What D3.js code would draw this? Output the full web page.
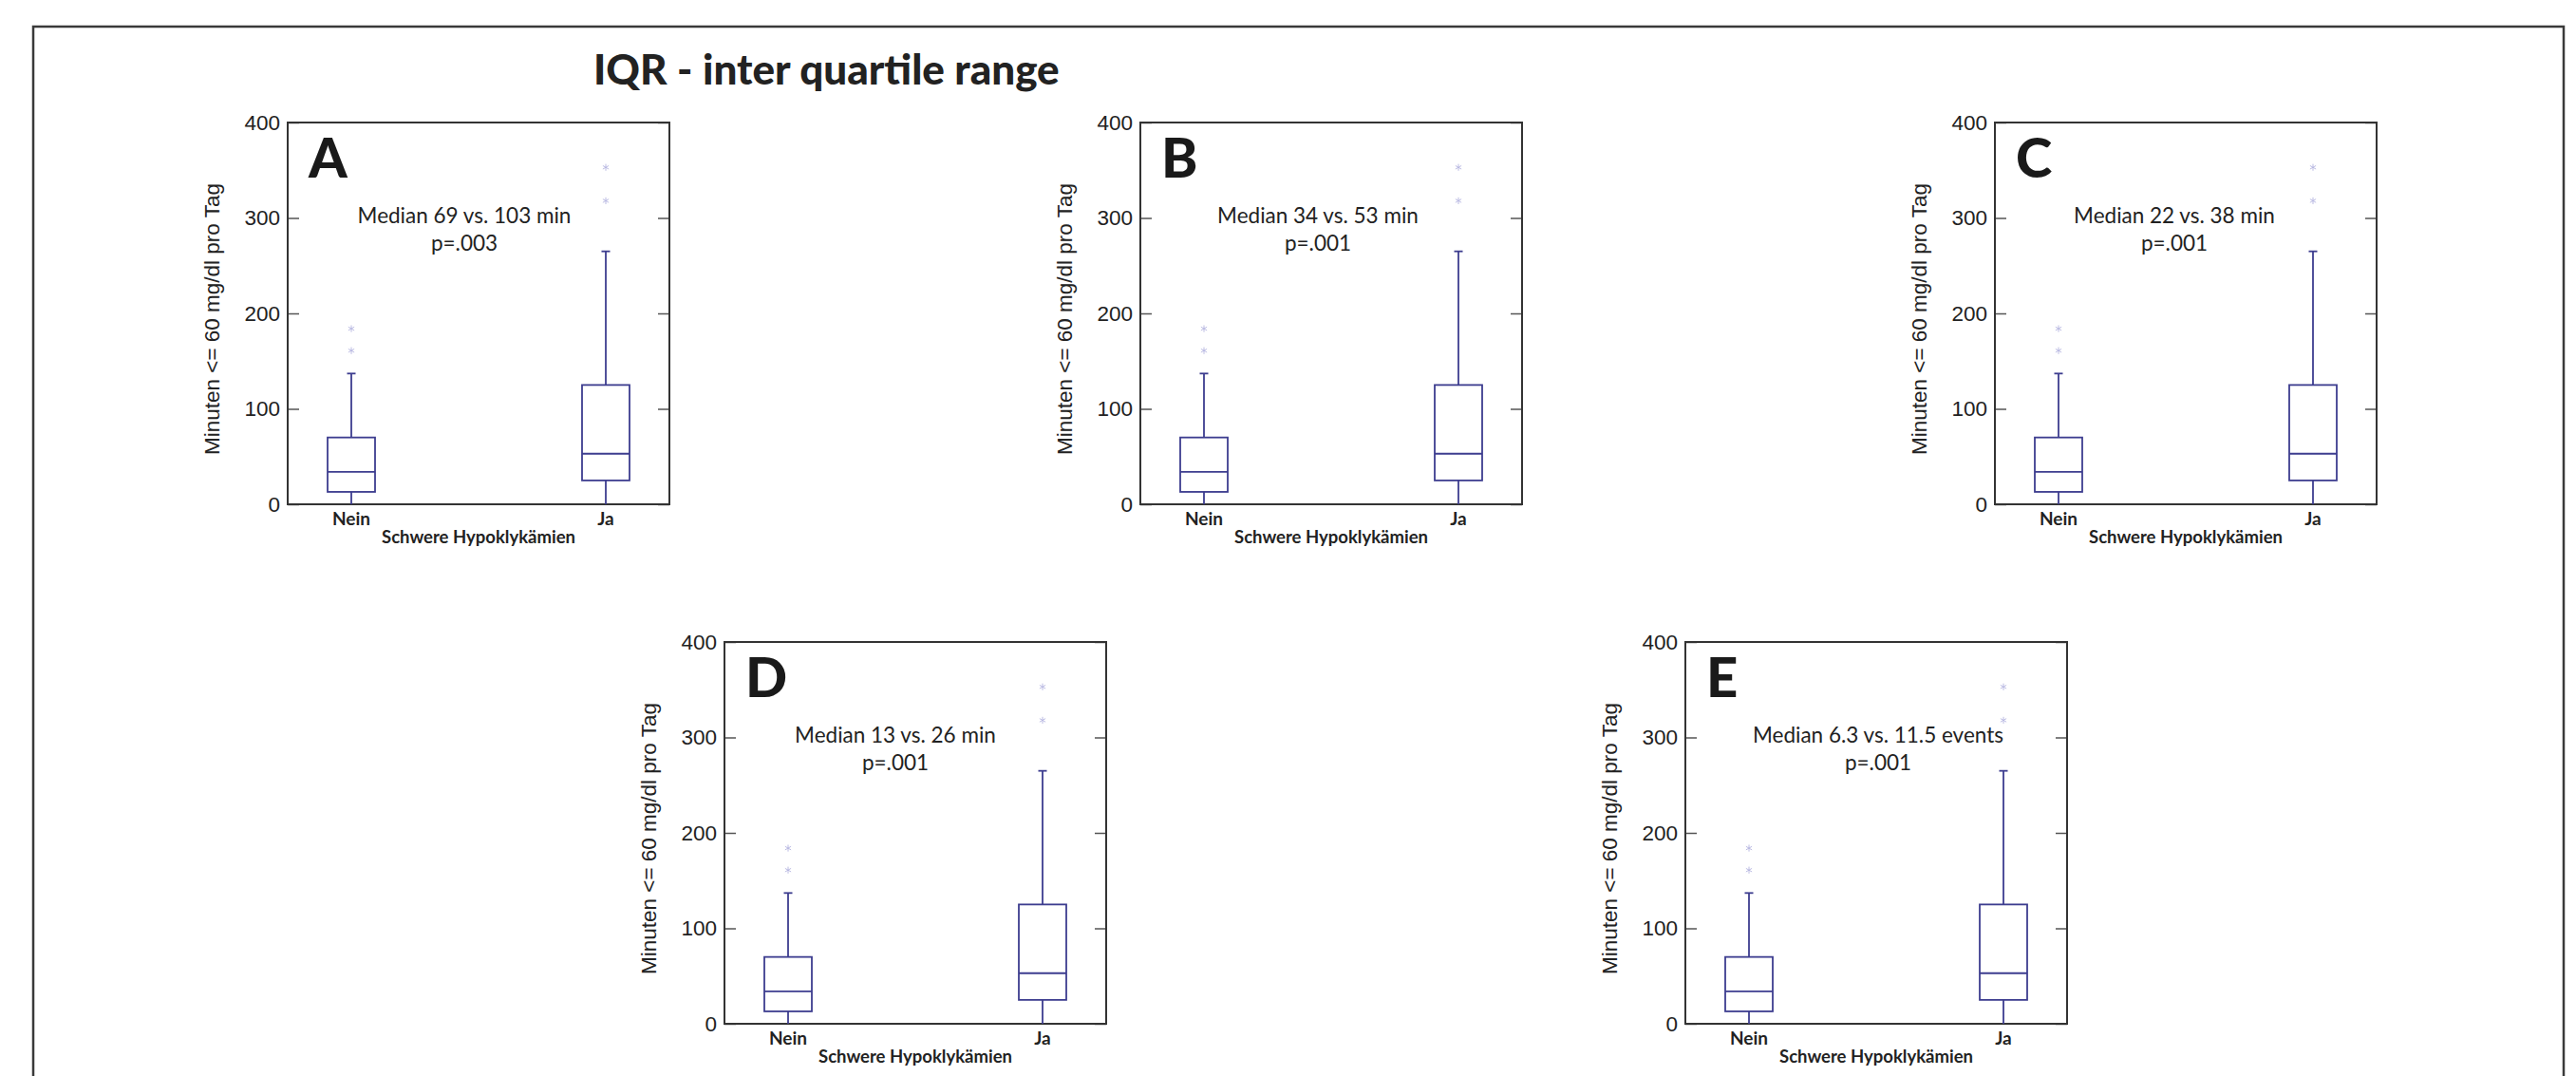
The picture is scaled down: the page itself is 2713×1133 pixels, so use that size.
<!DOCTYPE html>
<html>
<head>
<meta charset="utf-8">
<script src="https://cdnjs.cloudflare.com/ajax/libs/d3/7.8.5/d3.min.js"></script>
<style>
  body { margin: 0; background: #fff; }
  svg { display: block; }
</style>
</head>
<body>
<svg id="chart"></svg>
<script>
// data (all five panels show the same boxes)
var groups = ["Nein", "Ja"];
var whiskerLow = [0, 0];
var quartile1 = [13, 25];
var medians = [34, 53];
var quartile3 = [70, 125];
var whiskerHigh = [137, 265];
var outliers = [[161, 184], [318, 353]];
var yTicks = [0, 100, 200, 300, 400];

var panelLetters = ["A", "B", "C", "D", "E"];
var medianNotes = ["Median 69 vs. 103 min", "Median 34 vs. 53 min", "Median 22 vs. 38 min",
                   "Median 13 vs. 26 min", "Median 6.3 vs. 11.5 events"];
var pValues = ["p=.003", "p=.001", "p=.001", "p=.001", "p=.001"];

var titleText = "IQR - inter quartile range";
var yLabel = "Minuten <= 60 mg/dl pro Tag";
var xLabel = "Schwere Hypoklykämien";

// layout
var W = 2713, H = 1133, size = 402;
var panels = [
  {x: 303, y: 129, note: 186},
  {x: 1201, y: 129, note: 187},
  {x: 2101, y: 129, note: 189},
  {x: 763, y: 676, note: 180},
  {x: 1775, y: 676, note: 203}
];
var boxColor = "#3d3d8f",
    outlierColor = "#b4b4e0",
    frameColor = "#333";

var svg = d3.select("#chart").attr("width", W).attr("height", H);

// outer frame
svg.append("rect")
  .attr("x", 35).attr("y", 28)
  .attr("width", 2665).attr("height", 1130)
  .attr("fill", "none").attr("stroke", "#3a3a3a").attr("stroke-width", 2.5);

svg.append("text")
  .attr("x", 625).attr("y", 89)
  .attr("font-family", "Lato, sans-serif").attr("font-weight", 900)
  .attr("font-size", 44).attr("fill", "#222")
  .text(titleText);

var y = d3.scaleLinear().domain([0, 400]).range([size, 0]);
var x = d3.scalePoint().domain(groups).range([0, size]).padding(0.25);
var boxW = 50, capW = 9;

panels.forEach(function(p, i) {
  var g = svg.append("g").attr("transform", "translate(" + p.x + "," + p.y + ")");

  //left axis, ticks pointing inward
  var ax = g.append("g")
    .call(d3.axisLeft(y).tickValues(yTicks).tickSizeInner(-12).tickSizeOuter(0).tickPadding(8));
  ax.select(".domain").remove();
  ax.selectAll("line").attr("stroke", "#555").attr("stroke-width", 1.5);
  ax.selectAll("text")
    .attr("font-family", "'Liberation Sans', Arial, sans-serif")
    .attr("font-size", 22.5).attr("fill", "#222");

  //right axis, ticks only
  var ar = g.append("g").attr("transform", "translate(" + size + ",0)")
    .call(d3.axisRight(y).tickValues(yTicks).tickSizeInner(-12).tickSizeOuter(0).tickFormat(""));
  ar.select(".domain").remove();
  ar.selectAll("line").attr("stroke", "#555").attr("stroke-width", 1.5);

  // frame
  g.append("rect")
    .attr("width", size).attr("height", size)
    .attr("fill", "none").attr("stroke", frameColor).attr("stroke-width", 2);

  //boxes
  groups.forEach(function(name, j) {
    var cx = x(name);
    g.append("line")
      .attr("x1", cx).attr("x2", cx)
      .attr("y1", y(whiskerHigh[j])).attr("y2", y(quartile3[j]))
      .attr("stroke", boxColor).attr("stroke-width", 1.8);
    g.append("line")
      .attr("x1", cx).attr("x2", cx)
      .attr("y1", y(quartile1[j])).attr("y2", y(whiskerLow[j]))
      .attr("stroke", boxColor).attr("stroke-width", 1.8);
    g.append("line")
      .attr("x1", cx - capW / 2).attr("x2", cx + capW / 2)
      .attr("y1", y(whiskerHigh[j])).attr("y2", y(whiskerHigh[j]))
      .attr("stroke", boxColor).attr("stroke-width", 1.8);
    g.append("rect")
      .attr("x", cx - boxW / 2).attr("width", boxW)
      .attr("y", y(quartile3[j])).attr("height", y(quartile1[j]) - y(quartile3[j]))
      .attr("fill", "none").attr("stroke", boxColor).attr("stroke-width", 1.8);
    g.append("line")
      .attr("x1", cx - boxW / 2).attr("x2", cx + boxW / 2)
      .attr("y1", y(medians[j])).attr("y2", y(medians[j]))
      .attr("stroke", boxColor).attr("stroke-width", 1.8);

    g.selectAll(".out" + j)
      .data(outliers[j])
      .enter().append("path")
      .attr("d", d3.symbol(d3.symbolAsterisk, 36))
      .attr("transform", function(d) { return "translate(" + cx + "," + y(d) + ")"; })
      .attr("stroke", outlierColor).attr("stroke-width", 0.9).attr("fill", "none");

    g.append("text")
      .attr("x", cx).attr("y", size + 22)
      .attr("text-anchor", "middle")
      .attr("font-family", "Lato, sans-serif").attr("font-weight", "bold")
      .attr("font-size", 19).attr("fill", "#222")
      .text(name);
  });

  g.append("text")
    .attr("x", size / 2).attr("y", size + 41)
    .attr("text-anchor", "middle")
    .attr("font-family", "Lato, sans-serif").attr("font-weight", "bold")
    .attr("font-size", 18.5).attr("fill", "#222")
    .text(xLabel);

  g.append("text")
    .attr("transform", "translate(-72," + (size / 2 + 6) + ") rotate(-90)")
    .attr("text-anchor", "middle")
    .attr("font-family", "'Liberation Sans', Arial, sans-serif")
    .attr("font-size", 22.5).attr("fill", "#222")
    .text(yLabel);

  g.append("text")
    .attr("x", 22).attr("y", 58)
    .attr("font-family", "Lato, sans-serif").attr("font-weight", 900)
    .attr("font-size", 58).attr("fill", "#1a1a1a")
    .text(panelLetters[i]);

  g.append("text")
    .attr("x", p.note).attr("y", 106)
    .attr("text-anchor", "middle")
    .attr("font-family", "Lato, sans-serif")
    .attr("font-size", 22.5).attr("fill", "#222")
    .text(medianNotes[i]);
  g.append("text")
    .attr("x", p.note).attr("y", 135)
    .attr("text-anchor", "middle")
    .attr("font-family", "Lato, sans-serif")
    .attr("font-size", 22.5).attr("fill", "#222")
    .text(pValues[i]);
});
</script>
</body>
</html>
